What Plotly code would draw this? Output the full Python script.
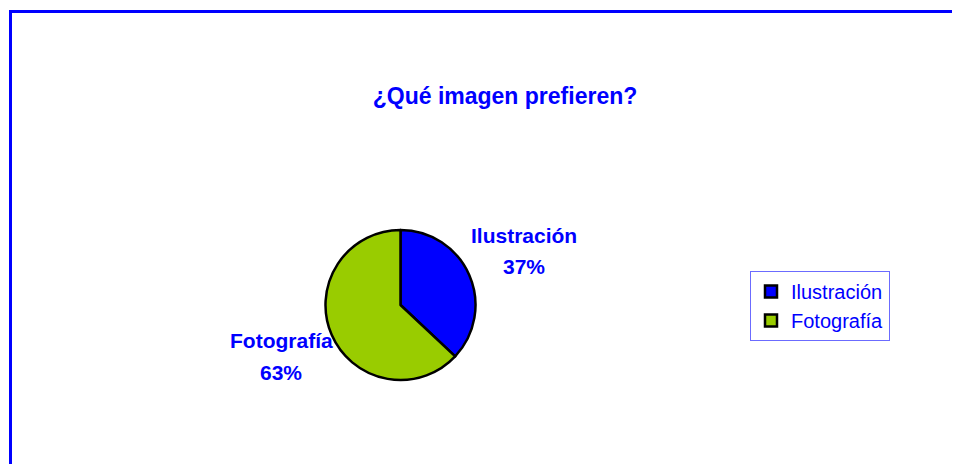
import plotly.graph_objects as go

labels = ["Ilustración", "Fotografía"]
values = [37, 63]
colors = ["#0000FF", "#99CC00"]
title = "¿Qué imagen prefieren?"

W, H = 960, 464
OFF = 8  # page body margin in the browser
blue = "#0000FF"
font = "Liberation Sans, Arial, sans-serif"


def px(x):
    return (x - OFF) / W


def py(y):
    return 1 - (y - OFF) / H


# pie centre and radius in pixels
cx, cy, r = 400.5, 305, 75

fig = go.Figure()
fig.add_trace(go.Pie(
    labels=labels, values=values, sort=False, direction="clockwise", rotation=0,
    marker=dict(colors=colors, line=dict(color="black", width=2.5)),
    textinfo="none", hoverinfo="label+percent",
    domain=dict(x=[px(cx - r), px(cx + r)], y=[py(cy + r), py(cy - r)]),
))

# outside labels, one line per annotation
total = sum(values)
pct = [f"{round(v * 100 / total)}%" for v in values]
label_pos = [(524, 235, 266), (281, 340, 372)]
for name, p, (x, y1, y2) in zip(labels, pct, label_pos):
    for txt, y in ((name, y1), (p, y2)):
        fig.add_annotation(
            text=f"<b>{txt}</b>", x=px(x), y=py(y), xref="paper", yref="paper",
            xanchor="center", yanchor="middle", showarrow=False,
            font=dict(family=font, size=21, color=blue))

# chart frame
fig.add_shape(type="rect", xref="paper", yref="paper",
              x0=px(10.5), x1=1.05, y0=-0.05, y1=py(11.5),
              line=dict(color=blue, width=3))

fig.update_layout(
    width=W, height=H,
    margin=dict(l=0, r=0, t=0, b=0),
    paper_bgcolor="white", plot_bgcolor="white",
    title=dict(text=f"<b>{title}</b>", x=px(505), y=py(96), xanchor="center", yanchor="middle",
               font=dict(family=font, size=23, color=blue)),
    showlegend=True,
    legend=dict(x=px(750), y=py(271), xanchor="left", yanchor="top",
                bordercolor="#6B6BFF", borderwidth=1, bgcolor="white",
                font=dict(family=font, size=20, color=blue),
                itemwidth=30, tracegroupgap=0),
)

fig.write_html("out.html")
